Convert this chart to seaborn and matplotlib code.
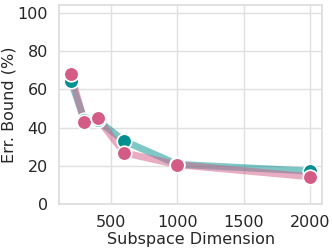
import matplotlib
matplotlib.use("Agg")
import matplotlib.pyplot as plt
import pandas as pd
import seaborn as sns

dims = [200, 300, 400, 600, 1000, 2000]
teal_vals = [64.2, 44.0, 43.8, 33.0, 20.8, 17.3]
pink_vals = [67.8, 42.8, 44.8, 26.8, 20.6, 14.3]

df = pd.DataFrame({
    "dim": dims * 2,
    "err": teal_vals + pink_vals,
    "method": ["A"] * len(dims) + ["B"] * len(dims),
})

sns.set_theme(style="whitegrid", font_scale=1.0)
plt.rcParams["font.family"] = ["DejaVu Sans"]

fig, ax = plt.subplots(figsize=(3.32, 2.49), dpi=100)
palette = {"A": "#009090", "B": "#d35c86"}

# thick translucent lines
for m, c in palette.items():
    sub = df[df.method == m]
    sns.lineplot(data=sub, x="dim", y="err", color=c, alpha=0.5, linewidth=5, ax=ax)
for m, c in palette.items():
    sub = df[df.method == m]
    sns.scatterplot(data=sub, x="dim", y="err", color=c, s=110, edgecolor="white",
                    linewidth=1.2, ax=ax, zorder=5)

ax.set_ylim(0, 104)
ax.set_yticks([0, 20, 40, 60, 80, 100])
ax.set_xticks([500, 1000, 1500, 2000])
ax.set_xlabel("Subspace Dimension", fontsize=11.5, labelpad=1)
ax.set_ylabel("Err. Bound (%)", fontsize=11.5, labelpad=1)
ax.tick_params(labelsize=11.5, pad=2, colors="#262626")
for s in ax.spines.values():
    s.set_color("#dddddd")
ax.grid(color="#e0e0e0")
fig.subplots_adjust(left=0.178, right=0.97, top=0.98, bottom=0.18)
fig.savefig("out.png", dpi=100)
